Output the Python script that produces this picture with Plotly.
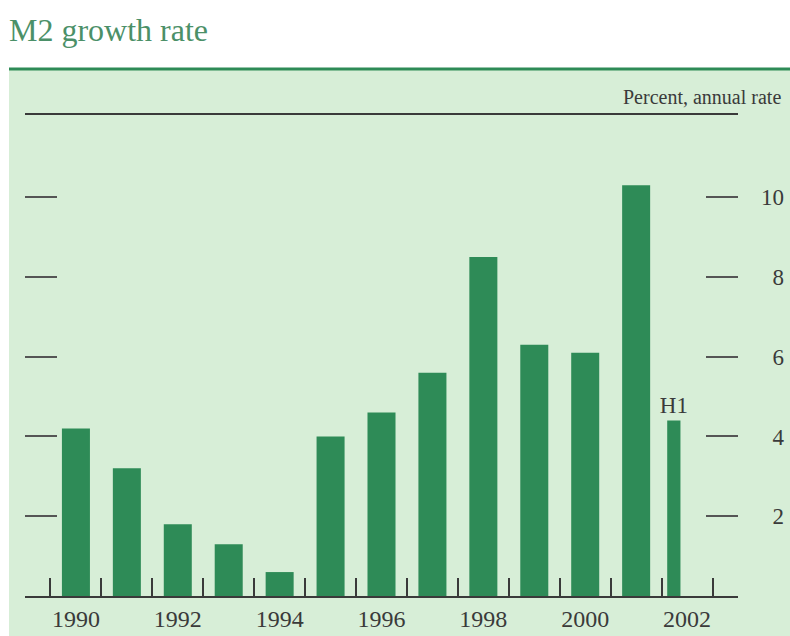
import plotly.graph_objects as go

###### DATA ######
years = [1990, 1991, 1992, 1993, 1994, 1995, 1996, 1997, 1998, 1999, 2000, 2001]
growth = [4.2, 3.2, 1.8, 1.3, 0.6, 4.0, 4.6, 5.6, 8.5, 6.3, 6.1, 10.3]

h1_year = [2002]
h1_growth = [4.4]
h1_label = ['H1']

year_ticks = [1990, 1992, 1994, 1996, 1998, 2000, 2002]
boundary_ticks = [y + 0.5 for y in range(1989, 2003)]
end_ticks = [1989, 2003]
pct_ticks = [2, 4, 6, 8, 10]
pct_labels = ['\u20072', '\u20074', '\u20076', '\u20078', '10']

###### STYLE ######
FONT = 'Liberation Serif'
BAR = '#2e8b57'
PANEL = '#d7eed7'
INK = '#3a3a3a'
TITLE_GREEN = '#4b9068'

# plot area in pixels: x 25..738, y 115..596
W, H = 790, 636
L, R, T, B = 25, 52, 115, 40
pw, ph = W - L - R, H - T - B


def px_x(p):
    return (p - L) / pw


def px_y(p):
    return (H - B - p) / ph


xrange_ = [1989, 2003]
yrange_ = [0, 12.06]

fig = go.Figure()
fig.add_trace(go.Bar(
    x=years, y=growth, width=0.55,
    marker=dict(color=BAR, line_width=0),
    xaxis='x', yaxis='y', showlegend=False, hoverinfo='skip',
))
fig.add_trace(go.Bar(
    x=h1_year, y=h1_growth, width=0.26, offset=-0.39,
    marker=dict(color=BAR, line_width=0),
    text=h1_label, textposition='outside', cliponaxis=False,
    constraintext='none',
    textfont=dict(family=FONT, size=23, color=INK),
    xaxis='x2', yaxis='y2', showlegend=False, hoverinfo='skip',
))

fig.update_layout(
    width=W, height=H,
    margin=dict(l=L, r=R, t=T, b=B),
    paper_bgcolor='white',
    plot_bgcolor='rgba(0,0,0,0)',
    font=dict(family=FONT, color=INK),
    title=dict(
        text='M2 growth rate', xref='container', yref='container',
        x=9 / W, xanchor='left', y=1 - 30 / H, yanchor='middle',
        font=dict(family=FONT, size=32, color=TITLE_GREEN),
    ),
    xaxis=dict(
        range=xrange_, showgrid=False, zeroline=False, automargin=False,
        showline=True, linecolor=INK, linewidth=1.5, mirror=True,
        tickmode='array', tickvals=year_ticks, ticks='',
        tickfont=dict(family=FONT, size=24, color=INK),
        ticklabelstandoff=0,
        minor=dict(tickmode='array', tickvals=boundary_ticks, ticks='inside',
                   ticklen=18, tickwidth=1.5, tickcolor=INK, showgrid=False),
    ),
    xaxis2=dict(
        range=xrange_, overlaying='x', anchor='y2', showgrid=False,
        zeroline=False, showline=False, showticklabels=False, automargin=False,
        tickmode='array', tickvals=end_ticks, ticks='inside',
        ticklen=25, tickwidth=1.5, tickcolor=INK,
    ),
    yaxis=dict(
        range=yrange_, showgrid=False, zeroline=False, showline=False,
        automargin=False,
        tickmode='array', tickvals=pct_ticks, ticks='inside', ticklen=32,
        tickwidth=2, tickcolor='#555555', showticklabels=False,
    ),
    yaxis2=dict(
        range=yrange_, overlaying='y', side='right', anchor='x',
        showgrid=False, zeroline=False, showline=False, automargin=False,
        tickmode='array', tickvals=pct_ticks, ticktext=pct_labels,
        ticks='inside', ticklen=32, tickwidth=2, tickcolor='#555555',
        tickfont=dict(family=FONT, size=23, color=INK),
        ticklabelstandoff=22,
    ),
    shapes=[
        dict(type='rect', xref='paper', yref='paper', layer='below',
             x0=px_x(9), x1=px_x(W + 5), y0=px_y(H + 5), y1=px_y(69),
             fillcolor=PANEL, line_width=0),
        dict(type='line', xref='paper', yref='paper',
             x0=px_x(9), x1=px_x(W + 5), y0=px_y(69), y1=px_y(69),
             line=dict(color=BAR, width=3)),
    ],
    annotations=[
        dict(text='Percent, annual rate', xref='paper', yref='paper',
             x=px_x(783), xanchor='right', y=px_y(97), yanchor='middle',
             showarrow=False, font=dict(family=FONT, size=20, color=INK)),
    ],
)

# the page's default body margin would push the chart 8px right and down
fig.write_html('out.html', config={'displayModeBar': False},
               post_script="document.body.style.margin='0';")
